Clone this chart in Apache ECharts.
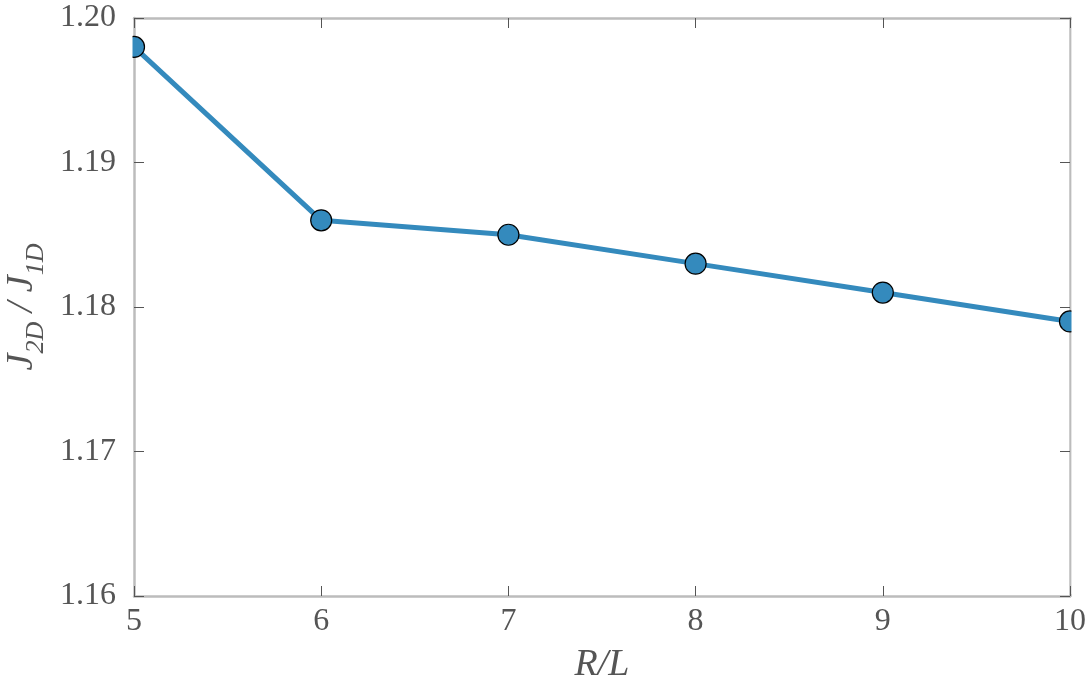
<!DOCTYPE html>
<html><head><meta charset="utf-8">
<script src="https://cdn.jsdelivr.net/npm/echarts@6/dist/echarts.min.js"></script>
<style>html,body{margin:0;padding:0;background:#fff}#c{width:1090px;height:685px}</style>
</head><body><div id="c"></div>
<script>
const ratios = [5, 6, 7, 8, 9, 10];
const jRatio = [1.198, 1.186, 1.185, 1.183, 1.181, 1.179];
const yTicks = ['1.16', '1.17', '1.18', '1.19', '1.20'];

const FONT = 'Liberation Serif';
const G = {left: 134, right: 20, top: 18, bottom: 89, containLabel: false, outerBoundsMode: 'none'};
const W = 1090, H = 685;
const chart = echarts.init(document.getElementById('c'), null, {renderer: 'canvas'});
const frame = {show: true, lineStyle: {color: '#bcbcbc', width: 2.5}};
const tick = {show: true, inside: true, length: 10, lineStyle: {color: '#555', width: 1}};
chart.setOption({
  animation: false,
  backgroundColor: '#fff',
  grid: G,
  xAxis: [{
    type: 'value', min: 5, max: 10, interval: 1,
    axisLine: frame, axisTick: tick, splitLine: {show: false},
    axisLabel: {color: '#555', fontFamily: FONT, fontSize: 32, margin: 10},
    name: 'R/L', nameLocation: 'middle', nameGap: 50,
    nameTextStyle: {color: '#555', fontFamily: FONT, fontStyle: 'italic', fontSize: 38}
  }, {
    type: 'value', min: 5, max: 10, interval: 1, position: 'top',
    axisLine: frame, axisTick: tick, splitLine: {show: false}, axisLabel: {show: false}
  }],
  yAxis: [{
    type: 'value', min: 1.16, max: 1.20, interval: 0.01,
    axisLine: frame, axisTick: tick, splitLine: {show: false},
    axisLabel: {color: '#555', fontFamily: FONT, fontSize: 32, margin: 18,
      formatter: (v) => { const i = Math.round((v - 1.16) / 0.01); return yTicks[i] || v.toFixed(2); }},
    name: '{i|J}{s|2D}{i| / J}{s|1D}', nameLocation: 'middle', nameGap: 90,
    nameTextStyle: {color: '#555',
      rich: {
        i: {fontFamily: FONT, fontStyle: 'italic', fontSize: 38, color: '#555', lineHeight: 48, verticalAlign: 'bottom'},
        s: {fontFamily: FONT, fontStyle: 'italic', fontSize: 26, color: '#555', lineHeight: 48, verticalAlign: 'bottom', padding: [0, 0, -8, 0]}
      }}
  }, {
    type: 'value', min: 1.16, max: 1.20, interval: 0.01, position: 'right',
    axisLine: frame, axisTick: tick, splitLine: {show: false}, axisLabel: {show: false}
  }],
  series: [{
    type: 'line',
    data: ratios.map((x, i) => [x, jRatio[i]]),
    clip: false,
    symbol: 'circle', symbolSize: 21,
    lineStyle: {color: '#348ABD', width: 5},
    itemStyle: {color: '#348ABD', borderColor: '#000', borderWidth: 1.2},
    z: 2
  }],
  graphic: [
    {type: 'rect', z: 100, silent: true, shape: {x: 119, y: G.top + 2, width: 13.5, height: H - G.top - G.bottom - 4}, style: {fill: '#fff'}},
    {type: 'rect', z: 100, silent: true, shape: {x: W - G.right + 1.5, y: G.top + 2, width: G.right, height: H - G.top - G.bottom - 4}, style: {fill: '#fff'}}
  ]
});
</script></body></html>
